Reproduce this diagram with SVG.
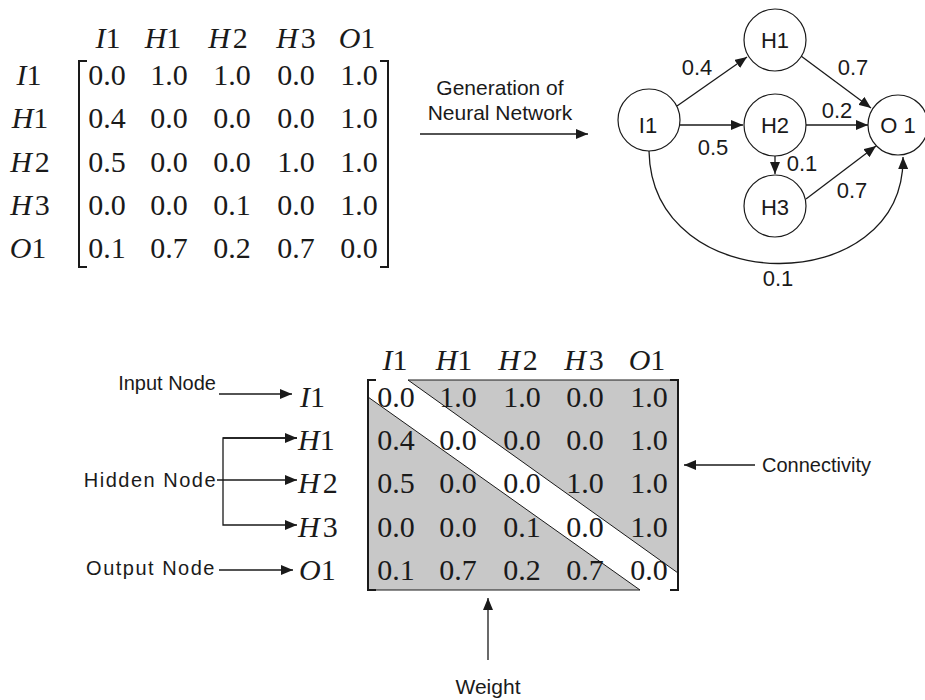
<svg xmlns="http://www.w3.org/2000/svg" width="925" height="700" viewBox="0 0 925 700">
<style>
.m{font-family:"Liberation Serif","Times New Roman",serif;font-size:30px;fill:#1a1a1a;text-anchor:middle}
.it{font-style:italic}
.s{font-family:"Liberation Sans",Arial,sans-serif;font-size:20px;fill:#1a1a1a}
.g{font-size:22px}
.c{text-anchor:middle}
.e{text-anchor:end}
.br{fill:none;stroke:#1a1a1a;stroke-width:2}
.ln{fill:none;stroke:#1a1a1a;stroke-width:1.3}
.nd{fill:#fff;stroke:#1a1a1a;stroke-width:1.2}
.gr{fill:#c8c8c8;stroke:#1a1a1a;stroke-width:1}
</style>
<defs>
<marker id="ah" viewBox="0 0 12 10" refX="12" refY="5" markerWidth="12" markerHeight="10" markerUnits="userSpaceOnUse" orient="auto">
<path d="M0,0 L12,5 L0,10 z" fill="#1a1a1a"/>
</marker>
</defs>

<!-- Top matrix -->
<g id="top-matrix">
<g class="m">
<text x="108" y="48"><tspan class="it">I</tspan>1</text>
<text x="163" y="48"><tspan class="it">H</tspan>1</text>
<text x="228" y="48"><tspan class="it">H</tspan><tspan dx="3">2</tspan></text>
<text x="296" y="48"><tspan class="it">H</tspan><tspan dx="3">3</tspan></text>
<text x="357" y="48"><tspan class="it">O</tspan>1</text>
<text x="29" y="85"><tspan class="it">I</tspan>1</text>
<text x="30" y="128"><tspan class="it">H</tspan>1</text>
<text x="30" y="172"><tspan class="it">H</tspan><tspan dx="3">2</tspan></text>
<text x="30" y="215"><tspan class="it">H</tspan><tspan dx="3">3</tspan></text>
<text x="28" y="258"><tspan class="it">O</tspan>1</text>
<text y="85"><tspan x="107">0.0</tspan><tspan x="169">1.0</tspan><tspan x="232">1.0</tspan><tspan x="296">0.0</tspan><tspan x="359">1.0</tspan></text>
<text y="128"><tspan x="107">0.4</tspan><tspan x="169">0.0</tspan><tspan x="232">0.0</tspan><tspan x="296">0.0</tspan><tspan x="359">1.0</tspan></text>
<text y="172"><tspan x="107">0.5</tspan><tspan x="169">0.0</tspan><tspan x="232">0.0</tspan><tspan x="296">1.0</tspan><tspan x="359">1.0</tspan></text>
<text y="215"><tspan x="107">0.0</tspan><tspan x="169">0.0</tspan><tspan x="232">0.1</tspan><tspan x="296">0.0</tspan><tspan x="359">1.0</tspan></text>
<text y="258"><tspan x="107">0.1</tspan><tspan x="169">0.7</tspan><tspan x="232">0.2</tspan><tspan x="296">0.7</tspan><tspan x="359">0.0</tspan></text>
</g>
<path class="br" d="M87,61 H79 V267 H87"/>
<path class="br" d="M380,61 H388 V267 H380"/>
</g>

<!-- Generation arrow -->
<g id="generation">
<text class="s c" x="500" y="95" style="font-size:21px">Generation of</text>
<text class="s c" x="500" y="120" style="font-size:21px">Neural Network</text>
<line class="ln" x1="420" y1="134" x2="588" y2="134" marker-end="url(#ah)"/>
</g>

<!-- Graph connectors -->
<g id="connectors">
<line class="ln" x1="677" y1="106" x2="747" y2="57" marker-end="url(#ah)"/>
<line class="ln" x1="680" y1="125" x2="743" y2="125" marker-end="url(#ah)"/>
<line class="ln" x1="801" y1="56" x2="871" y2="108" marker-end="url(#ah)"/>
<line class="ln" x1="806" y1="125" x2="868" y2="125" marker-end="url(#ah)"/>
<line class="ln" x1="775" y1="156" x2="775" y2="174" marker-end="url(#ah)"/>
<line class="ln" x1="806" y1="199" x2="876" y2="146" marker-end="url(#ah)"/>
<path class="ln" d="M649,151 C652,300 905,300 903,157" marker-end="url(#ah)"/>
<g class="s g c">
<text x="697" y="75">0.4</text>
<text x="853" y="75">0.7</text>
<text x="837" y="118">0.2</text>
<text x="713" y="155">0.5</text>
<text x="802" y="171">0.1</text>
<text x="852" y="198">0.7</text>
<text x="778" y="286">0.1</text>
</g>
</g>

<!-- Graph nodes -->
<g id="node-I1"><circle class="nd" cx="649" cy="120" r="31"/><text class="s g c" x="648" y="133">I1</text></g>
<g id="node-H1"><circle class="nd" cx="775" cy="40" r="31"/><text class="s g c" x="775" y="48">H1</text></g>
<g id="node-H2"><circle class="nd" cx="775" cy="125" r="31"/><text class="s g c" x="775" y="133">H2</text></g>
<g id="node-H3"><circle class="nd" cx="775" cy="206" r="31"/><text class="s g c" x="775" y="215">H3</text></g>
<g id="node-O1"><circle class="nd" cx="898" cy="125" r="30"/><text class="s g c" x="898" y="133">O 1</text></g>

<!-- Bottom matrix -->
<g id="bottom-matrix">
<polygon class="gr" points="408,380 678,380 678,573"/>
<polygon class="gr" points="368,397 368,590 640,590"/>
<g class="m">
<text x="395" y="370"><tspan class="it">I</tspan>1</text>
<text x="454" y="370"><tspan class="it">H</tspan>1</text>
<text x="518" y="370"><tspan class="it">H</tspan><tspan dx="3">2</tspan></text>
<text x="584" y="370"><tspan class="it">H</tspan><tspan dx="3">3</tspan></text>
<text x="647" y="370"><tspan class="it">O</tspan>1</text>
<text y="407"><tspan x="396">0.0</tspan><tspan x="458">1.0</tspan><tspan x="522">1.0</tspan><tspan x="585">0.0</tspan><tspan x="649">1.0</tspan></text>
<text y="450"><tspan x="396">0.4</tspan><tspan x="458">0.0</tspan><tspan x="522">0.0</tspan><tspan x="585">0.0</tspan><tspan x="649">1.0</tspan></text>
<text y="493"><tspan x="396">0.5</tspan><tspan x="458">0.0</tspan><tspan x="522">0.0</tspan><tspan x="585">1.0</tspan><tspan x="649">1.0</tspan></text>
<text y="537"><tspan x="396">0.0</tspan><tspan x="458">0.0</tspan><tspan x="522">0.1</tspan><tspan x="585">0.0</tspan><tspan x="649">1.0</tspan></text>
<text y="580"><tspan x="396">0.1</tspan><tspan x="458">0.7</tspan><tspan x="522">0.2</tspan><tspan x="585">0.7</tspan><tspan x="649">0.0</tspan></text>
</g>
<path class="br" d="M376,380 H368 V590 H376"/>
<path class="br" d="M670,380 H678 V590 H670"/>
<g class="m" style="text-anchor:start">
<text x="300" y="407"><tspan class="it">I</tspan>1</text>
<text x="298" y="450"><tspan class="it">H</tspan>1</text>
<text x="298" y="493"><tspan class="it">H</tspan><tspan dx="3">2</tspan></text>
<text x="298" y="537"><tspan class="it">H</tspan><tspan dx="3">3</tspan></text>
<text x="299" y="580"><tspan class="it">O</tspan>1</text>
</g>
</g>

<!-- Annotations -->
<g id="input-node">
<text class="s e" x="216" y="390">Input Node</text>
<line class="ln" x1="219" y1="394" x2="292" y2="394" marker-end="url(#ah)"/>
</g>
<g id="hidden-node">
<text class="s e" x="217" y="487" style="letter-spacing:1.5px">Hidden Node</text>
<path class="ln" d="M297,438 H223 V525 H297" marker-end="url(#ah)"/>
<line class="ln" x1="223" y1="438" x2="297" y2="438" marker-end="url(#ah)"/>
<line class="ln" x1="217" y1="480" x2="297" y2="480" marker-end="url(#ah)"/>
</g>
<g id="output-node">
<text class="s e" x="216" y="575" style="letter-spacing:1.5px">Output Node</text>
<line class="ln" x1="219" y1="570" x2="293" y2="570" marker-end="url(#ah)"/>
</g>
<g id="connectivity">
<line class="ln" x1="755" y1="465" x2="684" y2="465" marker-end="url(#ah)"/>
<text class="s" x="762" y="472">Connectivity</text>
</g>
<g id="weight">
<line class="ln" x1="488" y1="660" x2="488" y2="598" marker-end="url(#ah)"/>
<text class="s c" x="488" y="694" style="font-size:21px">Weight</text>
</g>
</svg>
